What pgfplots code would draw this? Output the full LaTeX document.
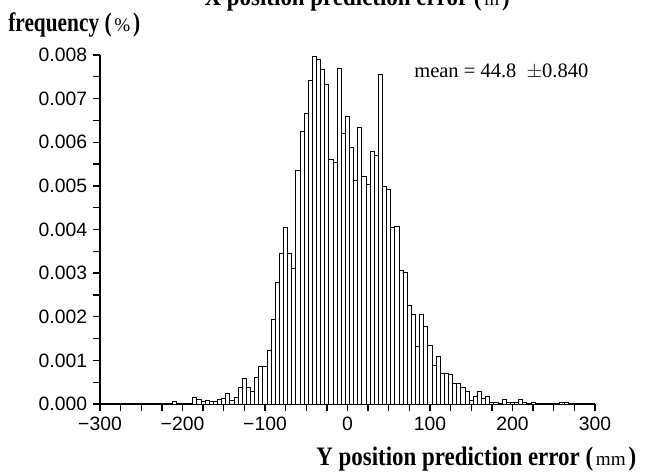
\documentclass[border=0pt]{standalone}
\usepackage{fontspec}
\setmainfont{Liberation Serif}
\setsansfont{Liberation Sans}
\usepackage{graphicx}
\usepackage{pgfplots}
\pgfplotsset{compat=1.18}

% bold condensed label with a small unit in brackets
\newcommand\blab[3]{\scalebox{#1}[1]{\fontsize{16}{16}\selectfont\bfseries #2 (}\,{\fontsize{11.5}{11.5}\selectfont #3}\,\scalebox{#1}[1]{\fontsize{16}{16}\selectfont\bfseries )}}

\begin{document}
\begin{tikzpicture}
\path[use as bounding box] (0,0) rectangle (396pt,-285.6pt);

% label of the panel above, cut off by the page edge
\node[anchor=base east, inner sep=0] at (510*0.6pt,-6*0.6pt) {\blab{0.86}{X position prediction error}{m}};

\begin{axis}[
    at={(60pt,-242.4pt)}, anchor=south west,
    scale only axis,
    width=297pt, height=209.4pt,
    xmin=-300, xmax=300,
    ymin=0, ymax=0.008,
    axis lines=left,
    axis line style={-, line width=0.8pt},
    tick align=outside,
    major tick length=4.2pt,
    minor tick length=4.2pt,
    every tick/.style={black, line width=0.8pt},
    xtick={-300,-200,...,300},
    xticklabels={−300,−200,−100,0,100,200,300},
    minor x tick num=3,
    ytick distance=0.001,
    minor y tick num=1,
    scaled y ticks=false,
    yticklabel style={/pgf/number format/.cd, fixed, fixed zerofill, precision=3},
    /pgf/number format/assume math mode=true,
    ticklabel style={font=\sffamily\fontsize{11.6}{12}\selectfont},
    clip=false,
]
\addplot[ybar, bar width=5, draw=black, fill=white, line width=0.55pt] coordinates {
    (-210,0.00005)
    (-185,0.00014) (-180,0.0001) (-175,0.00005) (-170,0.00007)
    (-165,0.00005) (-160,0.00005) (-155,0.0001) (-150,0.00012)
    (-145,0.00025) (-140,0.00008) (-135,0.00015) (-130,0.00038)
    (-125,0.00058) (-120,0.00038) (-115,0.00028) (-110,0.00061)
    (-105,0.00086) (-100,0.00086) (-95,0.00122) (-90,0.00193)
    (-85,0.00278) (-80,0.00345) (-75,0.00404) (-70,0.00345)
    (-65,0.00311) (-60,0.00535) (-55,0.00624) (-50,0.00666)
    (-45,0.00741) (-40,0.00797) (-35,0.00789) (-30,0.00766)
    (-25,0.00733) (-20,0.0056) (-15,0.00554) (-10,0.0077)
    (-5,0.0062) (0,0.0066) (5,0.00588) (10,0.00512)
    (15,0.00633) (20,0.00521) (25,0.00504) (30,0.00578)
    (35,0.00569) (40,0.00756) (45,0.00498) (50,0.00492)
    (55,0.00404) (60,0.00408) (65,0.00306) (70,0.00302)
    (75,0.00226) (80,0.00206) (85,0.00131) (90,0.00206)
    (95,0.00177) (100,0.00135) (105,0.00089) (110,0.00108)
    (115,0.0007) (120,0.0007) (125,0.00067) (130,0.00047)
    (135,0.00047) (140,0.00038) (145,0.00028) (150,0.00009)
    (155,0.00018) (160,0.00028) (165,0.00013) (170,0.00018)
    (175,0.00004) (180,0.00004) (190,0.0001) (195,0.00004)
    (200,0.00004) (205,0.00004) (210,0.0001) (215,0.00004)
    (225,0.00004) (260,0.00004) (265,0.00004)
};
\end{axis}

\node[anchor=base west, inner sep=0] at (8*0.6pt,-32*0.6pt) {\blab{0.8}{frequency}{\%}};
\node[anchor=base west, inner sep=0] at (316*0.6pt,-465*0.6pt) {\blab{0.86}{Y position prediction error}{mm}};
\node[anchor=base west, inner sep=0] at (414*0.6pt,-78*0.6pt) {\fontsize{12.3}{13}\selectfont mean = 44.8 \ $\pm$0.840};
\end{tikzpicture}
\end{document}
